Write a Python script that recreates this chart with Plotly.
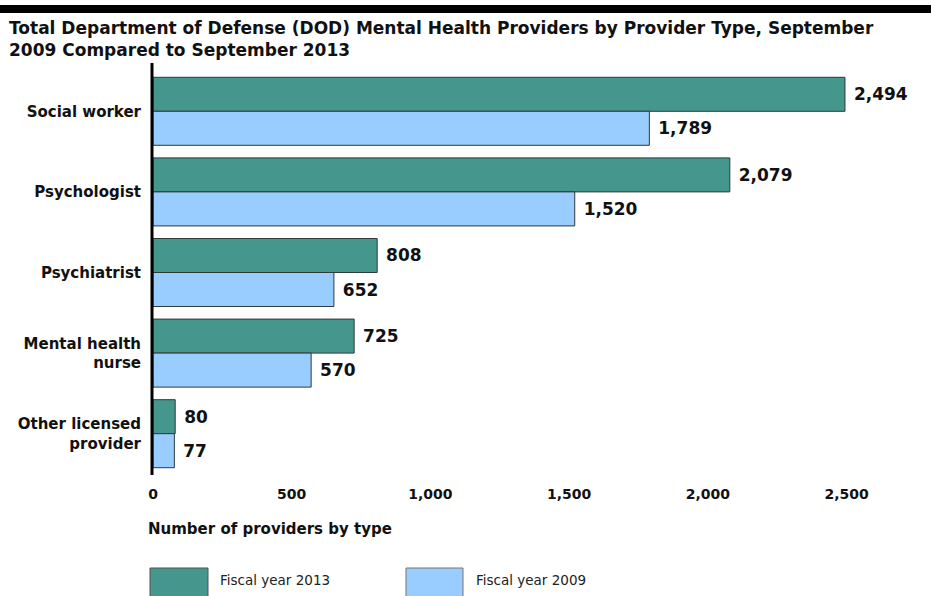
import plotly.graph_objects as go

categories = ["Social worker", "Psychologist", "Psychiatrist", "Mental health<br>nurse", "Other licensed<br>provider"]
fy2013 = [2494, 2079, 808, 725, 80]
fy2009 = [1789, 1520, 652, 570, 77]
x_ticks = [0, 500, 1000, 1500, 2000, 2500]
x_tick_labels = ["0", "500", "1,000", "1,500", "2,000", "2,500"]

W, H = 931, 596
L, R, T, B = 153, 15, 71, 122
PW, PH = W - L - R, H - T - B

def px(x):
    return (x - L) / PW

def py(y):
    return (H - B - y) / PH

FONT = "DejaVu Sans, Verdana, sans-serif"
TEAL = "#45968C"
BLUE = "#99CCFF"
TXT = "#111111"

def bar_trace(vals, name, color):
    return go.Bar(
        y=categories, x=vals, orientation="h", name=name,
        marker=dict(color=color, line=dict(color="#2f3a38", width=1)),
        texttemplate=" %{x:,}", textposition="outside", constraintext="none",
        textfont=dict(family=FONT, size=17, color=TXT, weight="bold"), cliponaxis=False,
    )

fig = go.Figure()
fig.add_trace(bar_trace(fy2013, "Fiscal year 2013", TEAL))
fig.add_trace(bar_trace(fy2009, "Fiscal year 2009", BLUE))

fig.update_layout(
    width=W, height=H,
    margin=dict(l=L, r=R, t=T, b=B, autoexpand=False),
    barmode="group", bargap=0.156, bargroupgap=0,
    plot_bgcolor="white", paper_bgcolor="white",
    showlegend=False,
    font=dict(family=FONT, color=TXT),
    xaxis=dict(range=[0, 2750], tickvals=x_ticks, ticktext=x_tick_labels,
               showgrid=False, zeroline=False, showline=False,
               tickfont=dict(family=FONT, size=14, color=TXT, weight="bold"),
               ticklabelstandoff=10, ticks=""),
    yaxis=dict(autorange="reversed", showgrid=False, zeroline=False, showline=False,
               tickfont=dict(family=FONT, size=15, color=TXT, weight="bold"),
               ticklabelstandoff=11, ticks=""),
)

shapes = [
    dict(type="rect", xref="paper", yref="paper", x0=px(0), x1=px(W), y0=py(13), y1=py(5),
         fillcolor="black", line=dict(width=0), layer="above"),
    dict(type="line", xref="paper", yref="paper", x0=px(152), x1=px(152), y0=py(63), y1=py(475),
         line=dict(color="black", width=3)),
    dict(type="rect", xref="paper", yref="paper", x0=px(150), x1=px(208), y0=py(600), y1=py(568),
         fillcolor=TEAL, line=dict(color="#555", width=1)),
    dict(type="rect", xref="paper", yref="paper", x0=px(406), x1=px(463), y0=py(600), y1=py(568),
         fillcolor=BLUE, line=dict(color="#777", width=1)),
]

annotations = [
    dict(text="<b>Total Department of Defense (DOD) Mental Health Providers by Provider Type, September<br>2009 Compared to September 2013</b>",
         xref="paper", yref="paper", x=px(7), y=py(16), xanchor="left", yanchor="top", align="left",
         showarrow=False, font=dict(family=FONT, size=17, color=TXT)),
    dict(text="<b>Number of providers by type</b>", xref="paper", yref="paper",
         x=px(146), y=py(529), xanchor="left", yanchor="middle", showarrow=False,
         font=dict(family=FONT, size=15, color=TXT)),
    dict(text="Fiscal year 2013", xref="paper", yref="paper", x=px(218), y=py(580),
         xanchor="left", yanchor="middle", showarrow=False, font=dict(family=FONT, size=13.5, color="#222")),
    dict(text="Fiscal year 2009", xref="paper", yref="paper", x=px(474), y=py(580),
         xanchor="left", yanchor="middle", showarrow=False, font=dict(family=FONT, size=13.5, color="#222")),
]
fig.update_layout(shapes=shapes, annotations=annotations)

fig.write_html("out.html", config={"displayModeBar": False},
               post_script="document.body.style.margin='0';document.body.style.overflow='hidden';")
